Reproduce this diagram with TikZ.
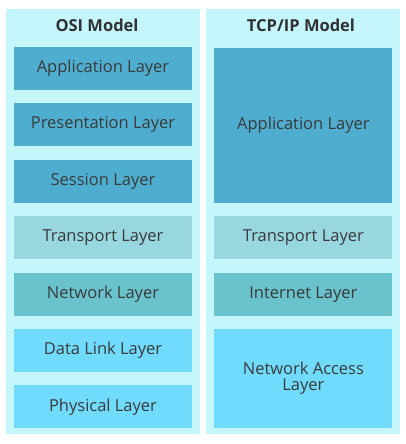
\documentclass[tikz,border=0pt]{standalone}
\usepackage{fontspec}
\setmainfont{Open Sans}
\usepackage{tikz}
\usetikzlibrary{positioning}
\definecolor{panelcyan}{RGB}{196,246,252}
\definecolor{layerblue}{RGB}{79,174,208}
\definecolor{layerpale}{RGB}{152,215,224}
\definecolor{layerteal}{RGB}{105,194,204}
\definecolor{layersky}{RGB}{112,219,252}
\definecolor{layertext}{RGB}{58,58,58}

\begin{document}
\begin{tikzpicture}[x=1pt,y=-1pt,node distance=13pt,
    panel/.style={fill=panelcyan,minimum width=194pt,minimum height=425pt,inner sep=0pt},
    heading/.style={font=\fontsize{16.5}{17}\selectfont\bfseries,text=layertext!85!black},
    layer/.style={minimum width=178pt,minimum height=43pt,inner sep=0pt,align=center,
      text=layertext,font=\fontsize{16.5}{16}\selectfont}]
  \useasboundingbox (0,0) rectangle (405,444);
  % the two columns
  \node[panel] (osi) at (103,221.5) {};
  \node[panel] (tcp) at (303,221.5) {};
  \node[heading] (ositit) at (97,25) {OSI Model};
  \node[heading] (tcptit) at (301,25) {TCP/IP Model};
  % OSI layers
  \node[layer,fill=layerblue] (app) at (103,68.5) {Application Layer};
  \node[layer,fill=layerblue,below=of app] (pres) {Presentation Layer};
  \node[layer,fill=layerblue,below=of pres] (sess) {Session Layer};
  \node[layer,fill=layerpale,below=of sess] (trans) {Transport Layer};
  \node[layer,fill=layerteal,below=of trans] (net) {Network Layer};
  \node[layer,fill=layersky,below=of net] (link) {Data Link Layer};
  \node[layer,fill=layersky,below=of link] (phys) {Physical Layer};
  % TCP/IP layers
  \node[layer,fill=layerpale,right=22pt of trans] (tcptrans) {Transport Layer};
  \node[layer,fill=layerblue,minimum height=155pt,above=of tcptrans] (tcpapp) {Application Layer};
  \node[layer,fill=layerteal,right=22pt of net] (tcpnet) {Internet Layer};
  \node[layer,fill=layersky,minimum height=99pt,below=of tcpnet] (tcpacc) {Network Access\\Layer};
\end{tikzpicture}
\end{document}
